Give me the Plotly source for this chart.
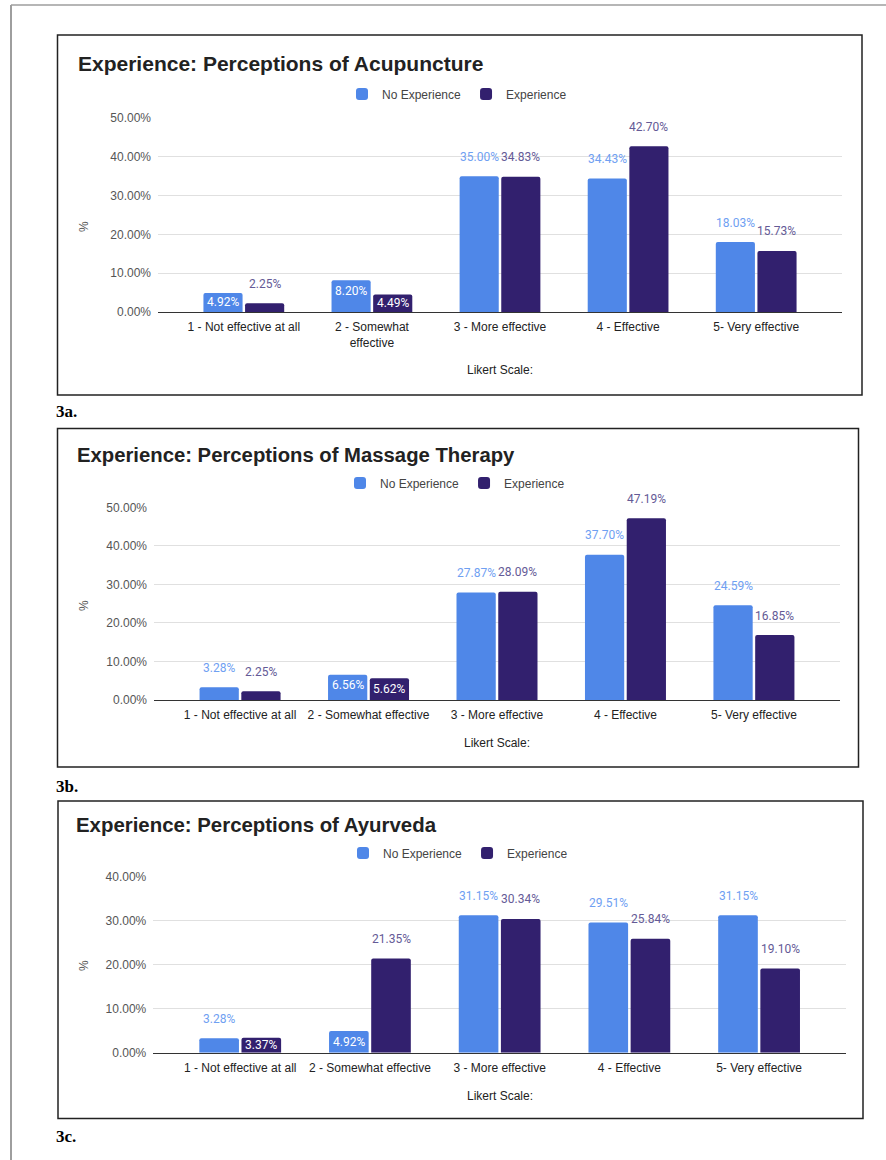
import plotly.graph_objects as go

W, H = 886, 1160

# ---------------- data ----------------
categories_a = ["1 - Not effective at all", "2 - Somewhat<br>effective", "3 - More effective",
                "4 - Effective", "5- Very effective"]
categories_b = ["1 - Not effective at all", "2 - Somewhat effective", "3 - More effective",
                "4 - Effective", "5- Very effective"]
categories_c = ["1 - Not effective at all", "2 - Somewhat effective", "3 - More effective",
                "4 - Effective", "5- Very effective"]
series_names = ["No Experience", "Experience"]

acu_no_exp = [4.92, 8.20, 35.00, 34.43, 18.03]
acu_exp = [2.25, 4.49, 34.83, 42.70, 15.73]
mas_no_exp = [3.28, 6.56, 27.87, 37.70, 24.59]
mas_exp = [2.25, 5.62, 28.09, 47.19, 16.85]
ayu_no_exp = [3.28, 4.92, 31.15, 29.51, 31.15]
ayu_exp = [3.37, 21.35, 30.34, 25.84, 19.10]

titles = ["Experience: Perceptions of Acupuncture",
          "Experience: Perceptions of Massage Therapy",
          "Experience: Perceptions of Ayurveda"]
panel_labels = ["3a.", "3b.", "3c."]
y_max = [50, 50, 40]
y_step = 10
x_title = "Likert Scale:"
y_title = "%"

# labels drawn inside the bar: (series index, category index)
inside_a = [(0, 0), (0, 1), (1, 1)]
inside_b = [(0, 1), (1, 1)]
inside_c = [(1, 0), (0, 1)]

# ---------------- style / layout ----------------
BLUE = "#4f87e8"
DARK = "#32206e"
LBL_BLUE = "#6fa0f2"
LBL_DARK = "#645a96"
FONT = "Liberation Sans, Arial, sans-serif"
LFONT = "Roboto, Liberation Sans, sans-serif"
BARGAP = 0.35
GROUPGAP = 0.06
XR = [-0.67, 4.67]

panels = [
    dict(cats=categories_a, vals=[acu_no_exp, acu_exp], inside=inside_a,
         box=(57.5, 35, 862, 395), plot=(158, 118, 842, 312), title_size=21,
         title_x=76, title_y=63.5, leg_x=457, leg_y=94, xt_y=370, yt_x=84, yt_y=227, pl_y=411.5),
    dict(cats=categories_b, vals=[mas_no_exp, mas_exp], inside=inside_b,
         box=(57.5, 428.5, 858.5, 767), plot=(154, 507.3, 840, 700), title_size=20.3,
         title_x=75, title_y=455, leg_x=455, leg_y=483, xt_y=743, yt_x=84, yt_y=606, pl_y=786),
    dict(cats=categories_c, vals=[ayu_no_exp, ayu_exp], inside=inside_c,
         box=(58, 801, 863, 1118.5), plot=(153.3, 876.3, 846, 1052.7), title_size=20.4,
         title_x=74, title_y=825, leg_x=458, leg_y=853, xt_y=1096, yt_x=84, yt_y=966, pl_y=1136),
]


def px(x):
    return x / W


def py(y):
    return 1 - y / H


fig = go.Figure()
annotations = []
shapes = []
layout_extra = {}

# page border
shapes.append(dict(type="line", xref="paper", yref="paper", x0=px(11), x1=px(11), y0=py(5), y1=py(H),
                   line=dict(color="#9e9e9e", width=2)))
shapes.append(dict(type="line", xref="paper", yref="paper", x0=px(11), x1=px(W), y0=py(5), y1=py(5),
                   line=dict(color="#9e9e9e", width=1.5)))

offset = (1 - BARGAP) / 4
for k, p in enumerate(panels):
    sfx = "" if k == 0 else str(k + 1)
    xa, ya = "x" + sfx, "y" + sfx
    leg = "legend" + sfx
    l, t, r, b = p["plot"]
    ymax = y_max[k]
    pxu = (b - t) / ymax  # pixels per percent
    for s in range(2):
        fig.add_trace(go.Bar(
            x=p["cats"], y=p["vals"][s], name=series_names[s],
            marker=dict(color=[BLUE, DARK][s], cornerradius=2, line=dict(width=0)),
            xaxis=xa, yaxis=ya, legend=leg, hoverinfo="skip"))
        for i, v in enumerate(p["vals"][s]):
            xpos = i + (-offset if s == 0 else offset)
            if (s, i) in p["inside"]:
                h = v * pxu
                annotations.append(dict(
                    x=xpos, y=v, xref=xa, yref=ya, text=f"{v:.2f}%", showarrow=False,
                    yanchor="middle", yshift=-min(10.5, h / 2),
                    font=dict(family=LFONT, size=12, color="white")))
            else:
                annotations.append(dict(
                    x=xpos, y=v, xref=xa, yref=ya, text=f"{v:.2f}%", showarrow=False,
                    yanchor="middle", yshift=19.5,
                    font=dict(family=LFONT, size=12, color=[LBL_BLUE, LBL_DARK][s])))

    layout_extra["xaxis" + sfx] = dict(
        domain=[px(l), px(r)], anchor=ya, type="category", range=XR,
        showgrid=False, showline=True, linecolor="#333333", linewidth=1,
        ticks="", ticklabelstandoff=4, tickfont=dict(family=FONT, size=12, color="#222222"),
        fixedrange=True, automargin=False)
    layout_extra["yaxis" + sfx] = dict(
        domain=[py(b), py(t)], anchor=xa, range=[0, ymax], dtick=y_step, tick0=0,
        tickformat=".2f", ticksuffix="%", showgrid=True, gridcolor="#e0e0e0", gridwidth=1,
        zeroline=False, showline=False, ticks="", ticklabelstandoff=6,
        tickfont=dict(family=FONT, size=12, color="#555555"), fixedrange=True, automargin=False)
    layout_extra[leg] = dict(
        orientation="h", x=px(p["leg_x"]), y=py(p["leg_y"]), xanchor="center", yanchor="middle",
        xref="paper", yref="paper", font=dict(family=FONT, size=12, color="#444444"),
        bgcolor="rgba(0,0,0,0)", itemclick=False, itemdoubleclick=False, tracegroupgap=0)

    bl, bt, br, bb = p["box"]
    shapes.append(dict(type="rect", xref="paper", yref="paper", x0=px(bl), x1=px(br), y0=py(bb), y1=py(bt),
                       line=dict(color="#222222", width=1.5), fillcolor="rgba(0,0,0,0)"))
    annotations.append(dict(x=px(p["title_x"]), y=py(p["title_y"]), xref="paper", yref="paper",
                            xanchor="left", yanchor="middle", showarrow=False, text=f"<b>{titles[k]}</b>",
                            font=dict(family=FONT, size=p["title_size"], color="#222222")))
    annotations.append(dict(x=px((l + r) / 2), y=py(p["xt_y"]), xref="paper", yref="paper",
                            xanchor="center", yanchor="middle", showarrow=False, text=x_title,
                            font=dict(family=FONT, size=12, color="#222222")))
    annotations.append(dict(x=px(p["yt_x"]), y=py(p["yt_y"]), xref="paper", yref="paper",
                            xanchor="center", yanchor="middle", showarrow=False, text=y_title, textangle=-90,
                            font=dict(family=FONT, size=12, color="#555555")))
    annotations.append(dict(x=px(54), y=py(p["pl_y"]), xref="paper", yref="paper",
                            xanchor="left", yanchor="middle", showarrow=False, text=f"<b>{panel_labels[k]}</b>",
                            font=dict(family="Liberation Serif, Times New Roman, serif", size=17, color="#000000")))

fig.update_layout(
    width=W, height=H, margin=dict(l=0, r=0, t=0, b=0, pad=0, autoexpand=False),
    paper_bgcolor="white", plot_bgcolor="white",
    barmode="group", bargap=BARGAP, bargroupgap=GROUPGAP,
    showlegend=True, annotations=annotations, shapes=shapes, **layout_extra)

fig.write_html("out.html", config={"displayModeBar": False})
